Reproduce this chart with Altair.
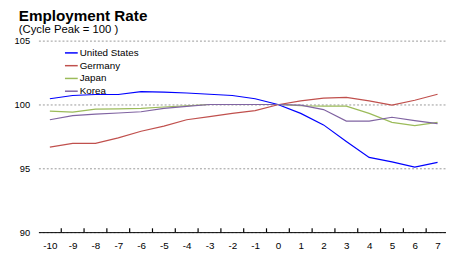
import altair as alt
import pandas as pd

periods = list(range(-10, 8))
series_names = ["United States", "Germany", "Japan", "Korea"]
colors = ["#0000FF", "#C0504D", "#9BBB59", "#8064A2"]

united_states = [100.45, 100.7, 100.78, 100.78, 101.0, 100.96, 100.9, 100.8, 100.7, 100.45,
                 100.0, 99.3, 98.4, 97.1, 95.85, 95.5, 95.1, 95.46]
germany = [96.66, 96.95, 96.95, 97.38, 97.9, 98.3, 98.8, 99.05, 99.3, 99.52,
           99.98, 100.28, 100.5, 100.56, 100.28, 99.95, 100.33, 100.8]
japan = [99.48, 99.4, 99.64, 99.66, 99.69, 99.8, 99.9, 100.0, 100.0, 100.0,
         100.0, 99.9, 99.87, 99.87, 99.3, 98.6, 98.35, 98.6]
korea = [98.8, 99.12, 99.25, 99.33, 99.43, 99.69, 99.85, 100.0, 100.0, 100.0,
         100.0, 99.95, 99.6, 98.7, 98.7, 99.0, 98.74, 98.5]

y_ticks = [90, 95, 100, 105]

rows = []
for name, vals in zip(series_names, [united_states, germany, japan, korea]):
    for p, v in zip(periods, vals):
        rows.append({"series": name, "period": p, "value": v, "order": series_names.index(name)})
df = pd.DataFrame(rows)

tick_df = pd.DataFrame({"b": [p + 0.5 for p in periods[:-1]]})

xscale = alt.Scale(domain=[-10.5, 7.37], nice=False, zero=False)
yscale = alt.Scale(domain=[90, 105], nice=False, zero=False)

x_axis = alt.Axis(values=periods, title=None, grid=False, ticks=False,
                  domainColor="#000000", domainWidth=1, labelPadding=9,
                  labelFontSize=10, labelColor="#000000", labelFont="Liberation Sans",
                  labelFlush=False, labelOverlap=False,
                  labelExpr="'' + datum.value")
y_axis = alt.Axis(values=y_ticks, title=None, domain=False, ticks=False,
                  grid=True, gridColor="#999999", gridDash=[2, 2], gridWidth=1,
                  labelPadding=9, labelFontSize=9.5, labelColor="#000000",
                  labelFont="Liberation Sans")

lines = alt.Chart(df).mark_line(strokeWidth=1.2, clip=False).encode(
    x=alt.X("period:Q", scale=xscale, axis=x_axis),
    y=alt.Y("value:Q", scale=yscale, axis=y_axis),
    color=alt.Color("series:N", sort=series_names,
                    scale=alt.Scale(domain=series_names, range=colors),
                    legend=alt.Legend(title=None, orient="none", legendX=26, legendY=5,
                                      symbolType="stroke", symbolSize=169,
                                      symbolStrokeWidth=1.5, labelFontSize=10,
                                      labelFont="Liberation Sans", labelColor="#000000",
                                      rowPadding=0, labelOffset=1, padding=0)),
    order="order:Q",
    detail="series:N",
)

ticks = alt.Chart(tick_df).mark_rule(color="#000000", strokeWidth=1.2).encode(
    x=alt.X("b:Q", scale=xscale, axis=x_axis),
    y=alt.Y(datum=90, type="quantitative", scale=yscale, axis=y_axis),
    y2=alt.Y2(datum=90.3),
)

chart = alt.layer(lines, ticks).properties(
    width=415,
    height=195,
    autosize=alt.AutoSizeParams(type="none"),
    padding={"left": 31, "top": 31, "right": 0, "bottom": 18},
    title=alt.TitleParams(
        text="Employment Rate",
        subtitle="(Cycle Peak = 100 )",
        anchor="start",
        frame="group",
        dx=-20,
        offset=0,
        font="Liberation Sans",
        fontSize=15.5,
        fontWeight="bold",
        color="#000000",
        subtitleFont="Liberation Sans",
        subtitleFontSize=11.5,
        subtitleColor="#000000",
        subtitlePadding=0,
    ),
).configure_view(stroke=None).configure_axisX(labelOverlap=False)

chart.save("out.html", embed_options={"renderer": "svg", "actions": False})
